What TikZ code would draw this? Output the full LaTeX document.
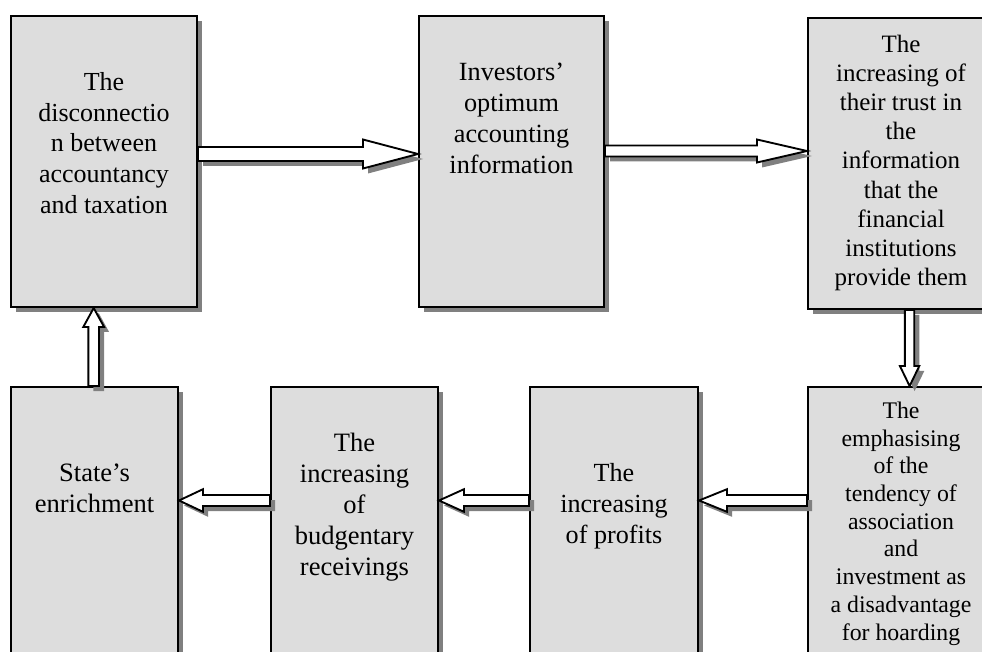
\documentclass[tikz,border=0pt]{standalone}
\usepackage{fontspec}
\setmainfont{Liberation Serif}
\usetikzlibrary{calc,shadows}
\definecolor{boxgray}{HTML}{DDDDDD}
\definecolor{shadowgray}{HTML}{808080}
\newcommand\setfs[2]{\fontsize{#1}{#2}\selectfont}
\newcommand\myharrow[5]{%
  \draw[blockarr] ($(#1)+(0,{-(#3)})$) -- ($(#2)+({-(#5)},{-(#3)})$) -- ($(#2)+({-(#5)},{-(#4)})$) -- (#2)
  -- ($(#2)+({-(#5)},{#4})$) -- ($(#2)+({-(#5)},{#3})$) -- ($(#1)+(0,{#3})$) -- cycle;}
\newcommand\myvarrow[5]{%
  \draw[blockarr] ($(#1)+({-(#3)},0)$) -- ($(#2)+({-(#3)},{-(#5)})$) -- ($(#2)+({-(#4)},{-(#5)})$) -- (#2)
  -- ($(#2)+({#4},{-(#5)})$) -- ($(#2)+({#3},{-(#5)})$) -- ($(#1)+({#3},0)$) -- cycle;}
\tikzset{
  shd/.style={drop shadow={shadow xshift=3.75pt, shadow yshift=-3.75pt, fill=shadowgray, opacity=1}},
  boxnode/.style={draw, line width=1.5pt, fill=boxgray, anchor=north west, inner sep=0pt, shd},
  blockarr/.style={draw=black, fill=white, line width=1.4pt, line join=miter, shd},
  txt/.style={anchor=north, align=center, inner sep=0pt}
}
\begin{document}
\begin{tikzpicture}[x=0.75pt,y=-0.75pt]
\useasboundingbox (0,0) rectangle (982,652);
\clip (0,0) rectangle (982,652);
% boxes
\node[boxnode, minimum width=139.5pt, minimum height=218.25pt] (b1) at (10,15) {};
\node[boxnode, minimum width=138.75pt, minimum height=218.25pt] (b2) at (418,15) {};
\node[boxnode, minimum width=139.5pt, minimum height=218.25pt] (b3) at (807,17) {};
\node[boxnode, minimum width=139.5pt, minimum height=225pt] (b4) at (807,386) {};
\node[boxnode, minimum width=126pt, minimum height=225pt] (b5) at (529,386) {};
\node[boxnode, minimum width=125.25pt, minimum height=225pt] (b6) at (270,386) {};
\node[boxnode, minimum width=125.25pt, minimum height=225pt] (b7) at (10,386) {};
% texts
\node[txt, font=\setfs{19.5pt}{23.06pt}] (t1) at (b1.north |- 0,68.5)
  {\strut The\\disconnectio\\n between\\accountancy\\and taxation};
\node[txt, font=\setfs{19.7pt}{23.25pt}] (t2) at (b2.north |- 0,58.3)
  {\strut Investors’\\optimum\\accounting\\information};
\node[txt, font=\setfs{18.75pt}{21.9pt}] (t3) at (b3.north |- 0,31.3)
  {\strut The\\increasing of\\their trust in\\the\\information\\that the\\financial\\institutions\\provide them};
\node[txt, font=\setfs{17.85pt}{20.8pt}] (t4) at (b4.north |- 0,398.6)
  {\strut The\\emphasising\\of the\\tendency of\\association\\and\\investment as\\a disadvantage\\for hoarding};
\node[txt, font=\setfs{19.6pt}{23.1pt}] (t5) at (b5.north |- 0,460.1)
  {\strut The\\increasing\\of profits};
\node[txt, font=\setfs{19.9pt}{23.1pt}] (t6) at (b6.north |- 0,430.1)
  {\strut The\\increasing\\of\\budgentary\\receivings};
\node[txt, font=\setfs{19.9pt}{23.25pt}] (t7) at (b7.north |- 0,460)
  {\strut State’s\\enrichment};
% connector end points
\coordinate (a1s) at (b1.east |- 0,154);
\coordinate (a1e) at (b2.west |- 0,154);
\coordinate (a2s) at (b2.east |- 0,151);
\coordinate (a2e) at (b3.west |- 0,151);
\coordinate (a3s) at (b3.south -| 909.6,0);
\coordinate (a3e) at (b4.north -| 909.6,0);
\coordinate (a4s) at (b4.west |- 0,500.5);
\coordinate (a4e) at (b5.east |- 0,500.5);
\coordinate (a5s) at (b5.west |- 0,500.5);
\coordinate (a5e) at (b6.east |- 0,500.5);
\coordinate (a6s) at (b6.west |- 0,500.5);
\coordinate (a6e) at (b7.east |- 0,500.5);
\coordinate (a7s) at (b7.north -| 93.7,0);
\coordinate (a7e) at (b1.south -| 93.7,0);
% connectors
\myharrow{a1s}{a1e}{7}{14.5}{55}
\myharrow{a2s}{a2e}{5.5}{11.5}{50}
\myvarrow{a3s}{a3e}{4.7}{9.7}{20}
\myharrow{a4s}{a4e}{5.5}{11.3}{-28}
\myharrow{a5s}{a5e}{5.5}{11.3}{-25}
\myharrow{a6s}{a6e}{5.5}{11.3}{-24}
\myvarrow{a7s}{a7e}{5.3}{10.4}{-19}
\end{tikzpicture}
\end{document}
